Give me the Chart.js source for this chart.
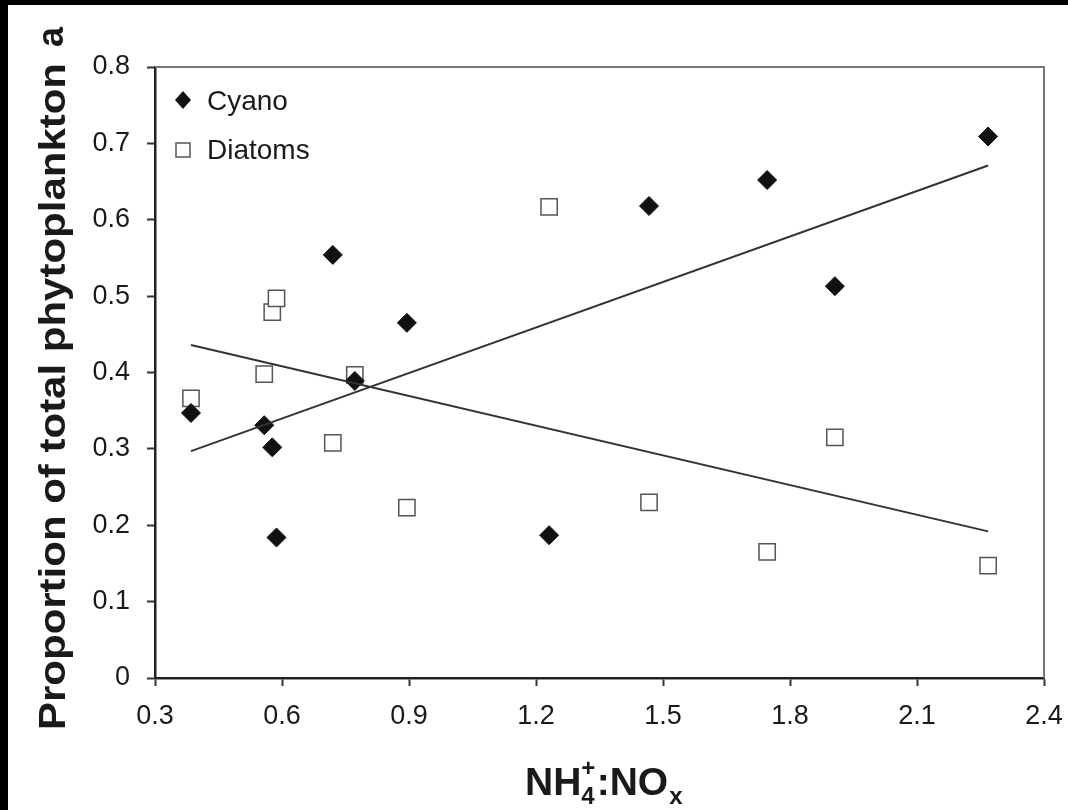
<!DOCTYPE html>
<html>
<head>
<meta charset="utf-8">
<title>Proportion of total phytoplankton vs NH4+:NOx</title>
<script src="https://cdn.jsdelivr.net/npm/chart.js@4.4.1/dist/chart.umd.min.js"></script>
<style>
    html, body { margin: 0; padding: 0; background: #000; }
    #wrap { position: absolute; left: 8px; top: 5px; width: 1060px; height: 805px; background: #fff; }
    canvas { display: block; }
</style>
</head>
<body>
<div id="wrap"><canvas id="phytoChart" width="1060" height="805"></canvas></div>
<script>
// Values (NH4+:NOx ratio per sample)
const ratio = [0.385, 0.558, 0.577, 0.587, 0.720, 0.772, 0.895, 1.231, 1.467, 1.746, 1.906, 2.268];
const cyano = [0.347, 0.331, 0.302, 0.184, 0.554, 0.389, 0.465, 0.187, 0.618, 0.652, 0.513, 0.709];
const diatoms = [0.366, 0.398, 0.479, 0.497, 0.308, 0.397, 0.223, 0.617, 0.230, 0.165, 0.315, 0.147];

// Regression line end points, as drawn
const fitX = [0.385, 2.268];
const cyanoFit = [0.297, 0.671];
const diatomFit = [0.436, 0.192];

// Axis ticks
const xTicks = [0.3, 0.6, 0.9, 1.2, 1.5, 1.8, 2.1, 2.4];
const yTicks = [0, 0.1, 0.2, 0.3, 0.4, 0.5, 0.6, 0.7, 0.8];

const textColor = '#1a1a1a';
const fontFamily = '"Liberation Sans", Arial, sans-serif';

function toPoints(xs, ys) {
    return xs.map((x, i) => ({ x: x, y: ys[i] }));
}

// top + right frame lines, legend, axis titles
const decorPlugin = {
    id: 'decor',
    afterDraw(chart) {
        const ctx = chart.ctx;
        const a = chart.chartArea;
        ctx.save();

        // frame top/right
        ctx.strokeStyle = '#777';
        ctx.lineWidth = 2;
        ctx.beginPath();
        ctx.moveTo(a.left, a.top);
        ctx.lineTo(a.right, a.top);
        ctx.lineTo(a.right, a.bottom);
        ctx.stroke();

        // legend
        ctx.fillStyle = '#111';
        ctx.beginPath();
        ctx.moveTo(175, 86); ctx.lineTo(183, 95); ctx.lineTo(175, 104); ctx.lineTo(167, 95);
        ctx.closePath();
        ctx.fill();
        ctx.strokeStyle = '#555';
        ctx.lineWidth = 1.5;
        ctx.fillStyle = '#fff';
        ctx.fillRect(168, 138, 14, 14);
        ctx.strokeRect(168, 138, 14, 14);
        ctx.fillStyle = textColor;
        ctx.font = '28px ' + fontFamily;
        ctx.textBaseline = 'alphabetic';
        ctx.textAlign = 'left';
        ctx.fillText('Cyano', 199, 105);
        ctx.fillText('Diatoms', 199, 154);

        // y title (rotated, stretched to the reference length)
        ctx.font = 'bold 36px ' + fontFamily;
        const yTitle = 'Proportion of total phytoplankton';
        const w = ctx.measureText(yTitle).width;
        ctx.save();
        ctx.translate(57, 725);
        ctx.rotate(-Math.PI / 2);
        ctx.scale(667 / w, 1);
        ctx.fillText(yTitle, 0, 0);
        ctx.restore();

        // panel label
        ctx.save();
        ctx.translate(55, 42);
        ctx.rotate(-Math.PI / 2);
        ctx.fillText('a', 0, 0);
        ctx.restore();

        // x title NH4+:NOx
        const big = 'bold 39px ' + fontFamily;
        const small = 'bold 24px ' + fontFamily;
        let x = 517;
        const y = 790;
        ctx.font = big;
        ctx.fillText('NH', x, y);
        x += ctx.measureText('NH').width;
        ctx.font = small;
        ctx.fillText('4', x, y + 9);
        ctx.fillText('+', x, y - 19);
        x += ctx.measureText('4').width + 2;
        ctx.font = big;
        ctx.fillText(':', x, y);
        x += ctx.measureText(':').width;
        ctx.fillText('NO', x, y);
        x += ctx.measureText('NO').width;
        ctx.font = small;
        ctx.fillText('x', x + 1, y + 9);

        ctx.restore();
    }
};

document.addEventListener('DOMContentLoaded', function () {
    const ctx = document.getElementById('phytoChart').getContext('2d');
    new Chart(ctx, {
        type: 'scatter',
        data: {
            datasets: [
                {
                    label: 'Cyano',
                    data: toPoints(ratio, cyano),
                    pointStyle: 'rectRot',
                    pointRadius: 9.5,
                    backgroundColor: '#111',
                    borderColor: '#111',
                    borderWidth: 1,
                    order: 1
                },
                {
                    label: 'Diatoms',
                    data: toPoints(ratio, diatoms),
                    pointStyle: 'rect',
                    pointRadius: 11.5,
                    backgroundColor: '#fff',
                    borderColor: '#555',
                    borderWidth: 1.5,
                    order: 2
                },
                {
                    label: 'Cyano fit',
                    data: toPoints(fitX, cyanoFit),
                    showLine: true,
                    pointRadius: 0,
                    borderColor: '#333',
                    borderWidth: 2,
                    order: 0
                },
                {
                    label: 'Diatom fit',
                    data: toPoints(fitX, diatomFit),
                    showLine: true,
                    pointRadius: 0,
                    borderColor: '#333',
                    borderWidth: 2,
                    order: 0
                }
            ]
        },
        options: {
            responsive: false,
            animation: false,
            layout: { padding: { top: 62, right: 24, left: 0, bottom: 0 } },
            plugins: {
                legend: { display: false },
                tooltip: { enabled: false }
            },
            scales: {
                x: {
                    type: 'linear',
                    min: xTicks[0],
                    max: xTicks[xTicks.length - 1],
                    afterFit: (scale) => {
                        scale.height = 132;
                        scale.paddingLeft = 0;
                        scale.paddingRight = 0;
                    },
                    afterBuildTicks: (scale) => { scale.ticks = xTicks.map(v => ({ value: v })); },
                    ticks: {
                        callback: (v) => v.toFixed(1),
                        color: textColor,
                        font: { family: fontFamily, size: 27 },
                        padding: 14,
                        maxRotation: 0
                    },
                    grid: {
                        drawOnChartArea: false,
                        drawTicks: true,
                        tickLength: 8,
                        tickColor: '#333',
                        tickWidth: 2
                    },
                    border: { display: true, color: '#222', width: 2.5 }
                },
                y: {
                    type: 'linear',
                    min: yTicks[0],
                    max: yTicks[yTicks.length - 1],
                    afterFit: (scale) => {
                        scale.width = 147;
                        scale.paddingTop = 0;
                        scale.paddingBottom = 0;
                    },
                    afterBuildTicks: (scale) => { scale.ticks = yTicks.map(v => ({ value: v })); },
                    ticks: {
                        callback: (v) => (v === 0 ? '0' : v.toFixed(1)),
                        color: textColor,
                        font: { family: fontFamily, size: 27 },
                        padding: 17
                    },
                    grid: {
                        drawOnChartArea: false,
                        drawTicks: true,
                        tickLength: 8,
                        tickColor: '#333',
                        tickWidth: 2
                    },
                    border: { display: true, color: '#222', width: 2.5 }
                }
            }
        },
        plugins: [decorPlugin]
    });
});
</script>
</body>
</html>
